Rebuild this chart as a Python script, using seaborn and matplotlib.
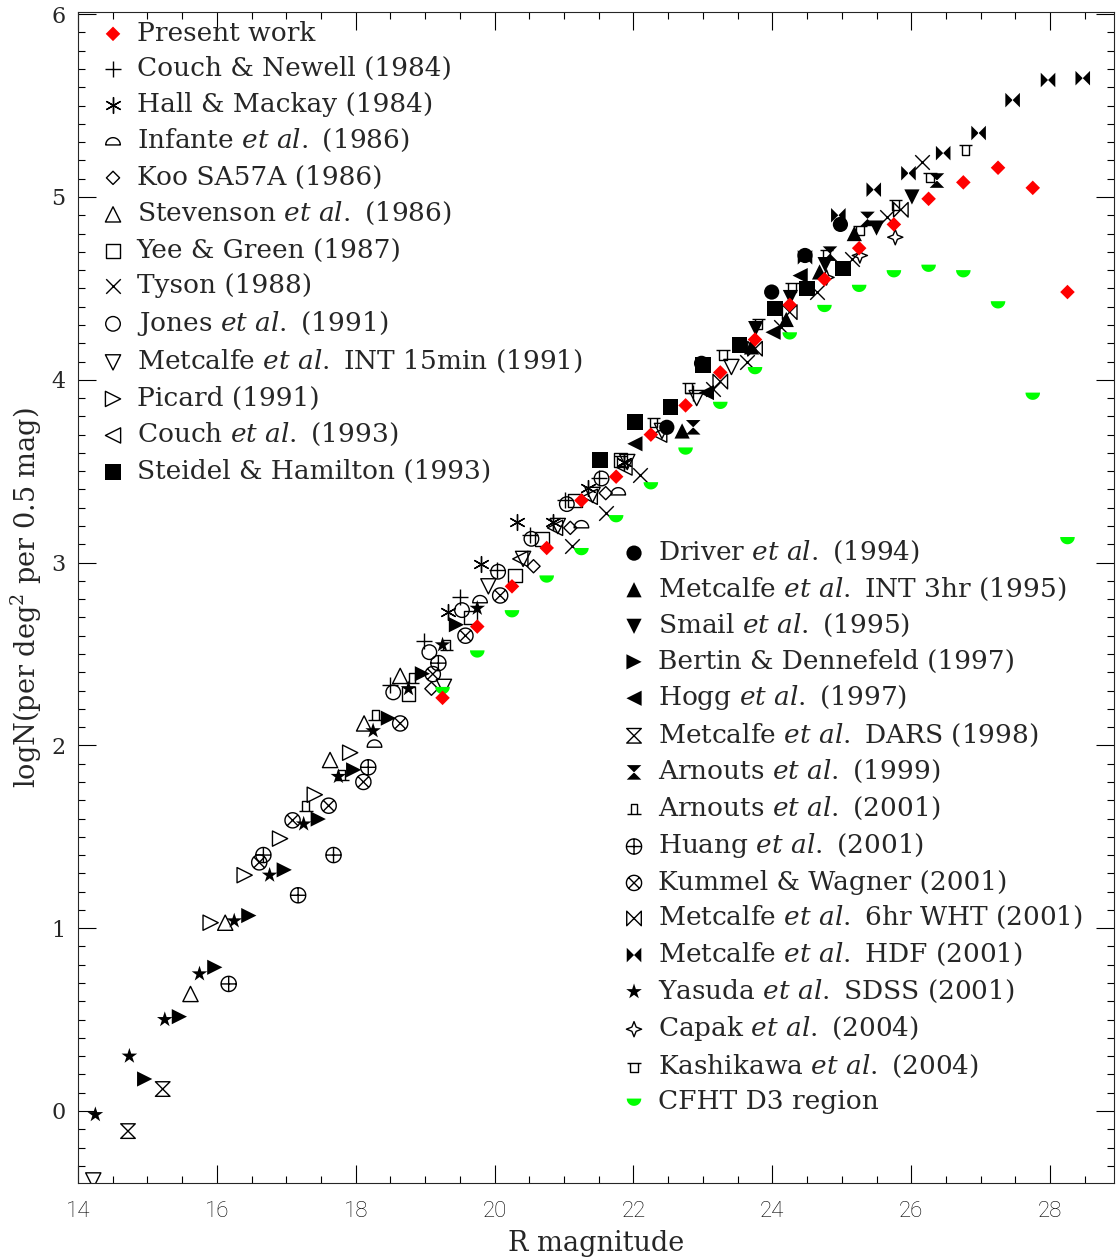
import numpy as np
import matplotlib
matplotlib.use("Agg")
import matplotlib.pyplot as plt
import seaborn as sns
from matplotlib.path import Path
from matplotlib.ticker import MultipleLocator

# ---------------- data ----------------
present_x = [19.25, 19.75, 20.25, 20.75, 21.25, 21.75, 22.25, 22.75, 23.25, 23.75,
             24.25, 24.75, 25.25, 25.75, 26.25, 26.75, 27.25, 27.75, 28.25]
present_y = [2.26, 2.65, 2.87, 3.08, 3.34, 3.47, 3.70, 3.86, 4.04, 4.22,
             4.41, 4.55, 4.72, 4.85, 4.99, 5.08, 5.16, 5.05, 4.48]

cfht_x = [19.25, 19.75, 20.25, 20.75, 21.25, 21.75, 22.25, 22.75, 23.25, 23.75,
          24.25, 24.75, 25.25, 25.75, 26.25, 26.75, 27.25, 27.75, 28.25]
cfht_y = [2.30, 2.50, 2.72, 2.91, 3.06, 3.24, 3.42, 3.61, 3.86, 4.05,
          4.24, 4.39, 4.50, 4.58, 4.61, 4.58, 4.41, 3.91, 3.12]

couch84_x = [18.49, 18.98, 19.50, 20.03, 20.51, 21.01, 21.50, 22.85]
couch84_y = [2.33, 2.57, 2.81, 2.96, 3.15, 3.34, 3.46, 3.93]

hall_x = [19.33, 19.81, 20.32, 20.84, 21.35, 21.86]
hall_y = [2.73, 2.99, 3.22, 3.22, 3.41, 3.55]

infante_x = [18.27, 19.79, 21.25, 21.78]
infante_y = [2.01, 2.80, 3.21, 3.39]

koo_x = [19.09, 20.56, 21.09, 21.60]
koo_y = [2.31, 2.98, 3.19, 3.38]

stevenson_x = [15.62, 16.12, 17.63, 18.12, 18.64]
stevenson_y = [0.64, 1.03, 1.92, 2.12, 2.38]

yee_x = [18.76, 19.65, 20.29, 20.68, 21.16, 21.81]
yee_y = [2.28, 2.70, 2.93, 3.13, 3.34, 3.56]

tyson_x = [21.11, 21.61, 22.09, 23.15, 23.63, 24.13, 24.64, 25.14, 25.65, 26.15]
tyson_y = [3.09, 3.27, 3.48, 3.95, 4.10, 4.29, 4.48, 4.66, 4.89, 5.19]

jones_x = [18.54, 19.06, 19.53, 20.05, 20.53, 21.04, 21.54]
jones_y = [2.29, 2.51, 2.74, 2.95, 3.13, 3.32, 3.46]

int15_x = [14.22, 19.27, 19.91, 20.41, 20.91, 21.41, 21.91, 22.41, 22.91, 23.41]
int15_y = [-0.38, 2.32, 2.87, 3.02, 3.20, 3.37, 3.55, 3.72, 3.90, 4.07]

picard_x = [15.91, 16.40, 16.91, 17.41, 17.92]
picard_y = [1.03, 1.29, 1.49, 1.73, 1.96]

couch93_x = [20.37, 20.87, 21.37, 21.87, 22.37]
couch93_y = [3.02, 3.19, 3.36, 3.52, 3.70]

steidel_x = [21.52, 22.02, 22.53, 23.00, 23.53, 24.04, 24.50, 25.02]
steidel_y = [3.56, 3.77, 3.85, 4.08, 4.19, 4.39, 4.50, 4.61]

driver_x = [22.48, 22.98, 23.99, 24.47, 24.98]
driver_y = [3.74, 4.09, 4.48, 4.68, 4.85]

int3_x = [22.70, 23.70, 24.20, 24.68, 25.18]
int3_y = [3.72, 4.18, 4.33, 4.59, 4.80]

smail_x = [23.76, 24.26, 24.76, 25.50, 26.01]
smail_y = [4.28, 4.45, 4.63, 4.83, 5.00]

bertin_x = [14.96, 15.46, 15.97, 16.46, 16.97, 17.46, 17.97, 18.47, 18.96, 19.45]
bertin_y = [0.175, 0.516, 0.786, 1.069, 1.319, 1.597, 1.866, 2.149, 2.392, 2.66]

hogg_x = [22.02, 23.05, 24.01, 24.40]
hogg_y = [3.65, 3.93, 4.26, 4.57]

dars_x = [14.72, 15.22]
dars_y = [-0.11, 0.12]

arnouts99_x = [22.86, 24.83, 25.37, 26.37]
arnouts99_y = [3.74, 4.69, 4.88, 5.09]

arnouts01_x = [17.28, 17.80, 18.28, 18.81, 19.31]
arnouts01_y = [1.67, 1.84, 2.17, 2.37, 2.55]

huang_x = [16.17, 16.67, 17.17, 17.68, 18.18, 19.19]
huang_y = [0.695, 1.40, 1.18, 1.40, 1.88, 2.45]

kummel_x = [16.61, 17.09, 17.61, 18.11, 18.64, 19.11, 19.58, 20.08]
kummel_y = [1.36, 1.59, 1.67, 1.80, 2.12, 2.39, 2.60, 2.82]

wht_x = [23.25, 23.75, 24.25, 25.85]
wht_y = [3.99, 4.17, 4.37, 4.93]

hdf_x = [24.47, 24.95, 25.46, 25.96, 26.46, 26.97, 27.46, 27.97, 28.47]
hdf_y = [4.67, 4.90, 5.04, 5.13, 5.24, 5.35, 5.53, 5.64, 5.65]

yasuda_x = [14.25, 14.74, 15.25, 15.75, 16.25, 16.76, 17.25, 17.75, 18.25, 18.76, 19.25, 19.75]
yasuda_y = [-0.02, 0.30, 0.50, 0.75, 1.04, 1.29, 1.57, 1.83, 2.08, 2.31, 2.55, 2.75]

capak_x = [24.78, 25.26, 25.77]
capak_y = [4.56, 4.68, 4.78]

kashikawa_x = [21.81, 22.29, 22.79, 23.29, 23.80, 24.28, 24.78, 25.26, 25.77, 26.27, 26.78]
kashikawa_y = [3.56, 3.77, 3.96, 4.14, 4.31, 4.51, 4.69, 4.82, 4.96, 5.11, 5.26]

x_ticks = [14, 16, 18, 20, 22, 24, 26, 28]
x_tick_labels = ["14", "16", "18", "20", "22", "24", "26", "28"]
y_ticks = [0, 1, 2, 3, 4, 5, 6]
y_tick_labels = ["0", "1", "2", "3", "4", "5", "6"]

ETAL = r"$\mathit{et\ al.}$"

# ---------------- marker shapes ----------------
def _arc(t0, t1, cx, cy, n=25):
    t = np.linspace(t0, t1, n)
    return [(cx + np.cos(a), cy + np.sin(a)) for a in t]

def closed(verts):
    v = list(verts) + [verts[0]]
    codes = [Path.MOVETO] + [Path.LINETO] * (len(verts) - 1) + [Path.CLOSEPOLY]
    return Path(v, codes)

def compound(parts):
    verts, codes = [], []
    for p in parts:
        verts += p
        codes += [Path.MOVETO] + [Path.LINETO] * (len(p) - 1)
    return Path(verts, codes)

upper_half = closed(_arc(0, np.pi, 0, -0.5))
lower_half = closed(_arc(np.pi, 2 * np.pi, 0, 0.5))
circ = _arc(0, 2 * np.pi, 0, 0, 40)
oplus = compound([circ, [(-1, 0), (1, 0)], [(0, -1), (0, 1)]])
d = 0.7071
otimes = compound([circ, [(-d, -d), (d, d)], [(-d, d), (d, -d)]])
hourglass = closed([(-1, 1), (1, 1), (-1, -1), (1, -1)])
bowtie = closed([(-1, 1), (-1, -1), (1, 1), (1, -1)])
r_in = 0.28
star4 = closed([(0, 1), (r_in, r_in), (1, 0), (r_in, -r_in), (0, -1), (-r_in, -r_in), (-1, 0), (-r_in, r_in)])
kashi = compound([[(-1, 0.6), (1, 0.6)], [(-0.55, 0.6), (-0.55, -0.8), (0.55, -0.8), (0.55, 0.6)]])
arn01 = compound([[(-1, -0.8), (1, -0.8)], [(-0.5, -0.8), (-0.5, 0.7), (0.5, 0.7), (0.5, -0.8)]])
asterisk = (6, 2, 0)

OPEN = dict(facecolor="none", edgecolor="black", linewidth=1.0)
FILL = dict(color="black", edgecolor="none")
LINE = dict(color="black", linewidth=1.0)

series1 = [
    ("Present work", present_x, present_y, "D", 55, dict(color="#ff0000", edgecolor="none")),
    ("Couch & Newell (1984)", couch84_x, couch84_y, "+", 130, LINE),
    ("Hall & Mackay (1984)", hall_x, hall_y, asterisk, 130, LINE),
    ("Infante " + ETAL + " (1986)", infante_x, infante_y, upper_half, 110, OPEN),
    ("Koo SA57A (1986)", koo_x, koo_y, "D", 45, OPEN),
    ("Stevenson " + ETAL + " (1986)", stevenson_x, stevenson_y, "^", 120, OPEN),
    ("Yee & Green (1987)", yee_x, yee_y, "s", 95, OPEN),
    ("Tyson (1988)", tyson_x, tyson_y, "x", 110, LINE),
    ("Jones " + ETAL + " (1991)", jones_x, jones_y, "o", 110, OPEN),
    ("Metcalfe " + ETAL + " INT 15min (1991)", int15_x, int15_y, "v", 120, OPEN),
    ("Picard (1991)", picard_x, picard_y, ">", 120, OPEN),
    ("Couch " + ETAL + " (1993)", couch93_x, couch93_y, "<", 120, OPEN),
    ("Steidel & Hamilton (1993)", steidel_x, steidel_y, "s", 125, FILL),
]
series2 = [
    ("Driver " + ETAL + " (1994)", driver_x, driver_y, "o", 120, FILL),
    ("Metcalfe " + ETAL + " INT 3hr (1995)", int3_x, int3_y, "^", 120, FILL),
    ("Smail " + ETAL + " (1995)", smail_x, smail_y, "v", 120, FILL),
    ("Bertin & Dennefeld (1997)", bertin_x, bertin_y, ">", 120, FILL),
    ("Hogg " + ETAL + " (1997)", hogg_x, hogg_y, "<", 120, FILL),
    ("Metcalfe " + ETAL + " DARS (1998)", dars_x, dars_y, hourglass, 110, OPEN),
    ("Arnouts " + ETAL + " (1999)", arnouts99_x, arnouts99_y, hourglass, 110, FILL),
    ("Arnouts " + ETAL + " (2001)", arnouts01_x, arnouts01_y, arn01, 95, OPEN),
    ("Huang " + ETAL + " (2001)", huang_x, huang_y, oplus, 120, OPEN),
    ("Kummel & Wagner (2001)", kummel_x, kummel_y, otimes, 120, OPEN),
    ("Metcalfe " + ETAL + " 6hr WHT (2001)", wht_x, wht_y, bowtie, 110, OPEN),
    ("Metcalfe " + ETAL + " HDF (2001)", hdf_x, hdf_y, bowtie, 110, FILL),
    ("Yasuda " + ETAL + " SDSS (2001)", yasuda_x, yasuda_y, "*", 140, FILL),
    ("Capak " + ETAL + " (2004)", capak_x, capak_y, star4, 120, OPEN),
    ("Kashikawa " + ETAL + " (2004)", kashikawa_x, kashikawa_y, kashi, 95, OPEN),
    ("CFHT D3 region", cfht_x, cfht_y, lower_half, 110, dict(color="#00ff00", edgecolor="none")),
]

# ---------------- style ----------------
sns.set_style("ticks")
plt.rcParams["font.family"] = ["DejaVu Serif"]
plt.rcParams["mathtext.fontset"] = "dejavuserif"
plt.rcParams["axes.linewidth"] = 0.8

fig = plt.figure(figsize=(11.16, 12.57), dpi=100)
ax = fig.add_axes([78 / 1116, 1 - 1183 / 1257, 1036 / 1116, 1171 / 1257])

handles = {}
draw_order = series1[1:] + series2 + series1[:1]
for label, xs, ys, mk, size, kw in draw_order:
    sns.scatterplot(x=xs, y=ys, marker=mk, s=size, label=label, legend=False,
                    ax=ax, zorder=3, **kw)
    handles[label] = ax.collections[-1]

ax.set_xlim(14, 28.92)
ax.set_ylim(-0.394, 6.012)

ax.set_xticks(x_ticks, labels=x_tick_labels, fontfamily="Roboto",
              fontweight="light", fontsize=16, color="black")
ax.set_yticks(y_ticks, labels=y_tick_labels, fontfamily="DejaVu Serif", fontsize=16)
ax.xaxis.set_minor_locator(MultipleLocator(0.5))
ax.yaxis.set_minor_locator(MultipleLocator(0.1))
ax.tick_params(which="both", direction="in", top=True, right=True, color="black")
ax.tick_params(which="major", length=13, width=0.8)
ax.tick_params(which="minor", length=5, width=0.8)
ax.tick_params(axis="x", which="major", pad=13)
ax.tick_params(axis="y", which="major", pad=9)

ax.set_xlabel("R magnitude", fontsize=19.5, labelpad=6)
ax.set_ylabel(r"logN(per deg$^2$ per 0.5 mag)", fontsize=19.5, labelpad=5)

legkw = dict(frameon=False, loc="upper left", borderaxespad=0, borderpad=0,
             handlelength=0.95, handletextpad=0.42,
             scatterpoints=1, fontsize=19)
leg1 = ax.legend([handles[s[0]] for s in series1], [s[0] for s in series1],
                 bbox_to_anchor=(0.0217, 0.9925), labelspacing=0.396, **legkw)
ax.add_artist(leg1)
leg2 = ax.legend([handles[s[0]] for s in series2], [s[0] for s in series2],
                 bbox_to_anchor=(0.5246, 0.5500), labelspacing=0.357, **legkw)

fig.savefig("out.png", dpi=100)
